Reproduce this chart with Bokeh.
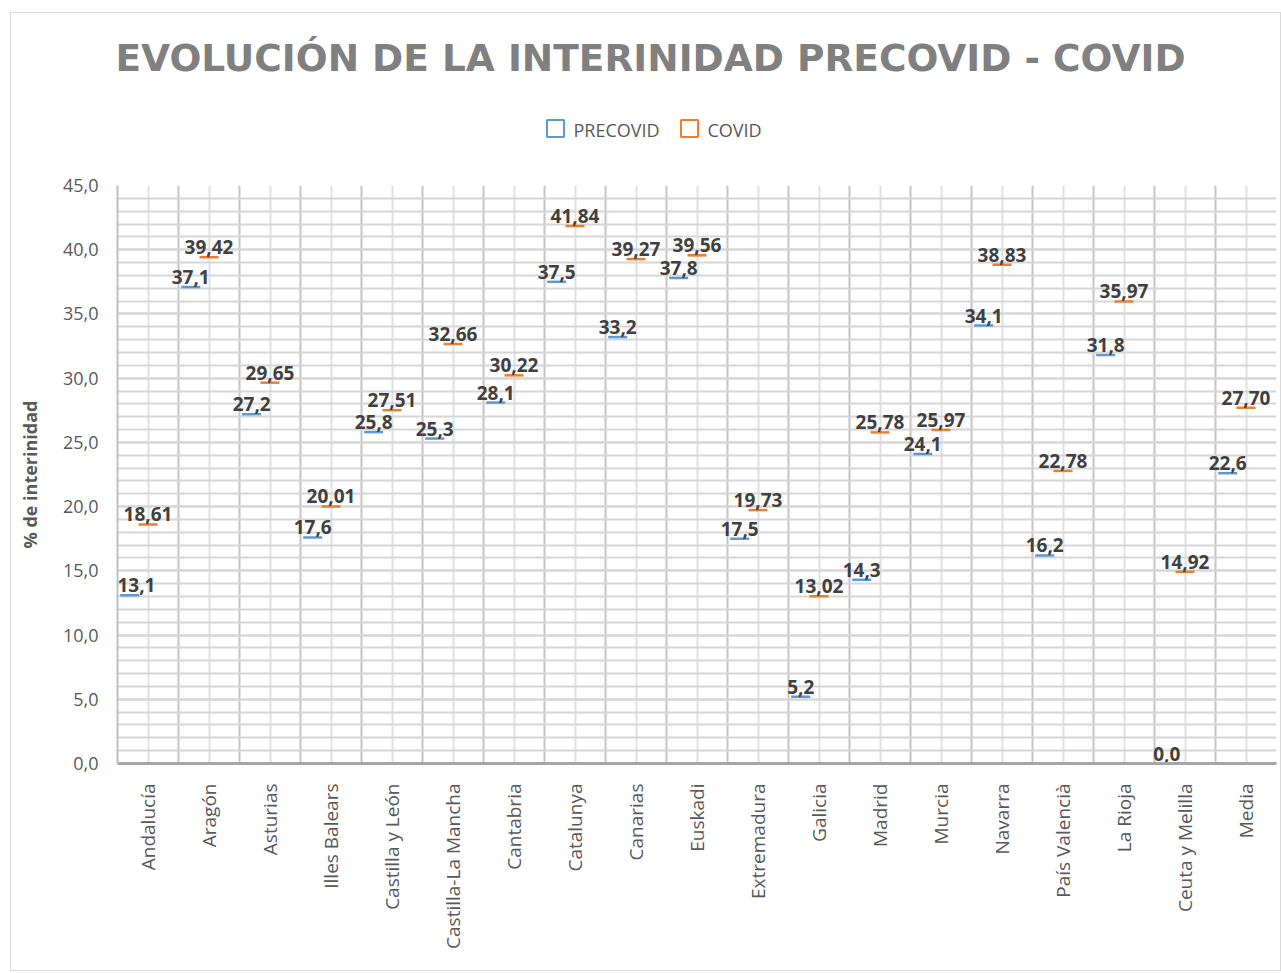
import numpy as np
from bokeh.plotting import figure
from bokeh.layouts import column
from bokeh.models import (Range1d, FixedTicker, SingleIntervalTicker, CustomJSTickFormatter,
                          ColumnDataSource)
from bokeh.embed import file_html
from bokeh.resources import INLINE
from bokeh.core.properties import value

# ---------------- data ----------------
regions = ["Andalucía", "Aragón", "Asturias", "Illes Balears", "Castilla y León",
           "Castilla-La Mancha", "Cantabria", "Catalunya", "Canarias", "Euskadi",
           "Extremadura", "Galicia", "Madrid", "Murcia", "Navarra", "País Valencià",
           "La Rioja", "Ceuta y Melilla", "Media"]
precovid = [13.1, 37.1, 27.2, 17.6, 25.8, 25.3, 28.1, 37.5, 33.2, 37.8,
            17.5, 5.2, 14.3, 24.1, 34.1, 16.2, 31.8, 0.0, 22.6]
covid = [18.61, 39.42, 29.65, 20.01, 27.51, 32.66, 30.22, 41.84, 39.27, 39.56,
         19.73, 13.02, 25.78, 25.97, 38.83, 22.78, 35.97, 14.92, 27.70]
series_names = ["PRECOVID", "COVID"]
y_ticks_step = 5
y_max = 45

title_text = "EVOLUCIÓN DE LA INTERINIDAD PRECOVID - COVID"
y_label = "% de interinidad"

# ---------------- styling / layout ----------------
BLUE = "#5B9BD5"
ORANGE = "#ED7D31"
TXT = "#595959"
OX, OY = 11, 13                 # chart-area border offset on the page (margin + 1px border)
W = 1269                        # inner width
LEFT = 117 - OX                 # frame left inside canvas
RIGHT_PAD = W - (1276 - OX)     # frame right at page x 1276
HEAD_H = 185 - 12 - OY          # header height so that frame top is at page y 185
MAIN_H = 957 - HEAD_H

# ---------------- header (title + legend); frame aligned with main frame ----------------
h = figure(width=W, height=HEAD_H, output_backend="svg", toolbar_location=None,
           x_range=Range1d(LEFT + OX, W - RIGHT_PAD + OX), y_range=Range1d(HEAD_H + OY, OY),
           min_border=0, min_border_left=LEFT, min_border_right=RIGHT_PAD,
           x_axis_type=None, y_axis_type=None)
h.outline_line_color = None
h.grid.visible = False
h.text(x=[650], y=[57], text=[title_text], text_align="center",
       text_baseline="middle", text_font=value("DejaVu Sans"), text_font_style="bold",
       text_font_size="37.5px", text_color="#808080")
# legend
h.scatter(x=[555, 689], y=[128, 128], marker="square", size=17, fill_alpha=0,
          line_color=[BLUE, ORANGE], line_width=2)
h.text(x=[573, 707], y=[129, 129], text=series_names, text_align="left",
       text_baseline="middle", text_font=value("Open Sans"),
       text_font_size="18px", text_color=TXT)

# ---------------- main chart ----------------
n = len(regions)
idx = np.arange(n)
x_pre = idx + 0.5 - 0.3
x_cov = idx + 0.5

src_pre = ColumnDataSource(dict(x=x_pre, y=precovid, lx=np.maximum(x_pre, 0.31),
                                lab=[f"{v:.1f}".replace(".", ",") for v in precovid]))
src_cov = ColumnDataSource(dict(x=x_cov, y=covid, lx=x_cov,
                                lab=[f"{v:.2f}".replace(".", ",") for v in covid]))

p = figure(width=W, height=MAIN_H, output_backend="svg", toolbar_location=None,
           x_range=Range1d(0, n), y_range=Range1d(0, y_max),
           min_border_left=LEFT, min_border_right=RIGHT_PAD, min_border_top=12,
           min_border_bottom=MAIN_H - 12 - 578)
p.outline_line_color = None

p.yaxis.ticker = SingleIntervalTicker(interval=y_ticks_step, num_minor_ticks=5)
p.yaxis.formatter = CustomJSTickFormatter(code="return tick.toFixed(1).replace('.', ',');")
p.yaxis.major_label_text_font = "Open Sans"
p.yaxis.major_label_text_font_size = "18px"
p.yaxis.major_label_text_color = TXT
p.yaxis.major_label_standoff = 13
p.yaxis.major_tick_line_color = None
p.yaxis.minor_tick_line_color = None
p.yaxis.axis_line_color = "#bfbfbf"
p.yaxis.axis_line_width = 2
p.yaxis.axis_label = y_label
p.yaxis.axis_label_text_font = "Open Sans"
p.yaxis.axis_label_text_font_style = "bold"
p.yaxis.axis_label_text_font_size = "18px"
p.yaxis.axis_label_text_color = TXT
p.yaxis.axis_label_standoff = 18

p.xaxis.ticker = FixedTicker(ticks=list(idx + 0.5), minor_ticks=list(range(n + 1)))
p.xaxis.formatter = CustomJSTickFormatter(args=dict(names=regions),
                                          code="return names[Math.floor(tick)];")
p.xaxis.major_label_orientation = np.pi / 2
p.xaxis.major_label_text_font = "Open Sans"
p.xaxis.major_label_text_font_size = "19px"
p.xaxis.major_label_text_color = TXT
p.xaxis.major_label_standoff = 14
p.xaxis.major_tick_line_color = None
p.xaxis.minor_tick_line_color = None
p.xaxis.axis_line_color = "#a6a6a6"
p.xaxis.axis_line_width = 3

p.ygrid.grid_line_color = "#d6d6d6"
p.ygrid.grid_line_width = 2
p.ygrid.minor_grid_line_color = "#d6d6d6"
p.ygrid.minor_grid_line_width = 2
p.xgrid.grid_line_color = "#e0e0e0"
p.xgrid.grid_line_width = 2
p.xgrid.minor_grid_line_color = "#c4c4c4"
p.xgrid.minor_grid_line_width = 2

p.scatter("x", "y", source=src_pre, marker="dash", size=19, line_color=BLUE, line_width=2.5)
p.scatter("x", "y", source=src_cov, marker="dash", size=19, line_color=ORANGE, line_width=2.5)

for src in (src_pre, src_cov):
    p.text("lx", "y", text="lab", source=src, text_align="center", text_baseline="bottom",
           y_offset=-3, text_font=value("Open Sans"), text_font_style="bold",
           text_font_size="19px", text_color="#404040")

layout = column(h, p, spacing=0, margin=(OY - 1, 0, 0, OX - 1),
                styles={"border": "1px solid #d9d9d9"})
open("out.html", "w").write(file_html(layout, INLINE))
